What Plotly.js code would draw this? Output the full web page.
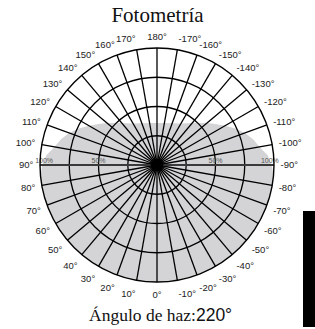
<!DOCTYPE html>
<html>
<head>
<meta charset="utf-8">
<script src="https://cdn.plot.ly/plotly-3.0.1.min.js"></script>
<style>html,body{margin:0;padding:0;background:#fff;}#chart{width:315px;height:329px;}</style>
</head>
<body>
<div id="chart"></div>
<script>
// Beam intensity (% of max) by angle (degrees, 0 = straight down)
const beamAngles = [-180,-170,-160,-150,-140,-130,-125,-120,-115,-110,-105,-100,-95,-90,-85,-80,-70,-60,-50,-40,-30,-20,-10,0,10,20,30,40,50,60,70,80,85,90,95,100,105,110,115,120,125,130,140,150,160,170,180];
const beamValues = [36,36.5,38,41,47,56,61,67,74,80,85,89,95,98,100,100,100,100,100,100,100,100,100,100,100,100,100,100,100,100,100,100,100,98,95,89,85,80,74,67,61,56,47,41,38,36.5,36];

// Angular tick labels
const tickAngles = [0,10,20,30,40,50,60,70,80,90,100,110,120,130,140,150,160,170,180,190,200,210,220,230,240,250,260,270,280,290,300,310,320,330,340,350];
const tickLabels = ["0°","10°","20°","30°","40°","50°","60°","70°","80°","90°","100°","110°","120°","130°","140°","150°","160°","170°","180°","-170°","-160°","-150°","-140°","-130°","-120°","-110°","-100°","-90°","-80°","-70°","-60°","-50°","-40°","-30°","-20°","-10°"];

// Radial ring values and labels
const ringValues = [25,50,75,100];
const pctLabelTheta = [90,90,-90,-90];
const pctLabelR = [96.5,50,50,96.5];
const pctLabelText = ["100%","50%","50%","100%"];

// Horizontal axis line (90° to -90°)
const axisTheta = [90,90,-90];
const axisR = [100,0,100];

// Centre hub
const hubTheta = [0];
const hubR = [0];

const sans = 'Liberation Sans, Arial, sans-serif';
const serif = 'Liberation Serif, Times New Roman, serif';

const traces = [
  {type:'scatterpolar', subplot:'polar', theta: beamAngles, r: beamValues, mode:'lines', fill:'toself',
   fillcolor:'#d4d4d6', line:{width:0, color:'#d4d4d6'}, hoverinfo:'skip'},
  {type:'scatterpolar', subplot:'polar2', theta: axisTheta, r: axisR, mode:'lines',
   line:{width:2, color:'#3a3a3a'}, hoverinfo:'skip'},
  {type:'scatterpolar', subplot:'polar2', theta: hubTheta, r: hubR, mode:'markers',
   marker:{size:13, color:'#000', line:{width:0}}, hoverinfo:'skip', cliponaxis:false},
  {type:'scatterpolar', subplot:'polar2', theta: pctLabelTheta, r: pctLabelR, mode:'text', text: pctLabelText,
   textposition:'top center', textfont:{family:sans, size:7, color:'#555'}, hoverinfo:'skip'}
];

const dom = {x:[40/315, 274/315], y:[47/329, 281/329]};

const layout = {
  width:315, height:329,
  margin:{l:0,r:0,t:0,b:0},
  paper_bgcolor:'#fff',
  showlegend:false,
  title:{text:'Fotometría', x:0.5, xanchor:'center', y:1-15/329, yanchor:'middle',
    font:{family:serif, size:21, color:'#111'}},
  polar:{
    domain:dom, bgcolor:'#fff',
    angularaxis:{rotation:-90, direction:'clockwise', showgrid:false, showline:false, showticklabels:false, ticks:''},
    radialaxis:{range:[0,100], showgrid:false, showline:false, showticklabels:false, ticks:''}
  },
  polar2:{
    domain:dom, bgcolor:'rgba(0,0,0,0)',
    angularaxis:{rotation:-90, direction:'clockwise', tickmode:'array', tickvals: tickAngles, ticktext: tickLabels,
      showgrid:true, gridcolor:'#000', gridwidth:1.3, showline:true, linecolor:'#000', linewidth:1.4,
      ticks:'outside', ticklen:4, tickcolor:'rgba(0,0,0,0)',
      tickfont:{family:sans, size:9.5, color:'#222'}},
    radialaxis:{range:[0,100], tickmode:'array', tickvals: ringValues, showticklabels:false,
      showgrid:true, gridcolor:'#000', gridwidth:1.3, showline:false, ticks:''}
  },
  shapes:[{type:'rect', xref:'paper', yref:'paper', x0:303/315, x1:1, y0:2/329, y1:118/329,
    fillcolor:'#000', line:{width:0}}],
  annotations:[
    {text:'Ángulo de haz:<span style="font-family:Liberation Sans, Arial, sans-serif">220°</span>',
      xref:'paper', yref:'paper', x:160/315, y:(329-315)/329, xanchor:'center', yanchor:'middle',
      showarrow:false, font:{family:serif, size:17.5, color:'#111'}}
  ]
};

Plotly.newPlot('chart', traces, layout, {displayModeBar:false, staticPlot:true});
</script>
</body>
</html>
